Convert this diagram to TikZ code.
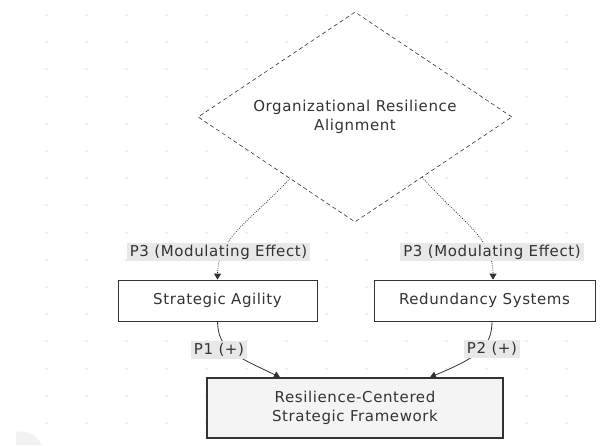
\documentclass[tikz,border=0pt]{standalone}
\usepackage{fontspec}
\setmainfont{DejaVu Sans}[LetterSpace=4]
\usetikzlibrary{shapes.geometric,arrows.meta,calc}
\definecolor{inkgray}{HTML}{333333}
\definecolor{lblgray}{HTML}{E8E8E8}
\definecolor{gridgray}{HTML}{EEEEEE}
\definecolor{framefill}{HTML}{F4F4F4}

\begin{document}
\begin{tikzpicture}[x=1pt, y=-1pt,
    font=\fontsize{15}{18.5}\selectfont,
    box/.style={draw=inkgray, line width=0.7pt, fill=white, rectangle, minimum height=41pt, inner sep=0pt, text=inkgray, align=center},
    decision/.style={draw=inkgray, line width=0.6pt, dash pattern=on 4pt off 3pt, fill=white, diamond, aspect=1.5, minimum width=314pt, minimum height=210pt, inner sep=0pt, text=inkgray, align=center},
    edgelbl/.style={fill=lblgray, text=inkgray, inner xsep=3pt, minimum height=18pt, inner ysep=0pt},
    dotarrow/.style={-{Triangle[length=6pt,width=7pt]}, line width=0.8pt, dash pattern=on 0.8pt off 1.4pt, inkgray},
    arrow/.style={-{Triangle[length=6pt,width=7pt]}, line width=0.8pt, inkgray}
]
    \useasboundingbox (0,0) rectangle (601,445);

    % Background dots
    \foreach \gx in {46,86,...,566}
        \foreach \gy in {0,...,15}
            \fill[gridgray] (\gx-1.5,15+27.2*\gy-1) rectangle (\gx+1.5,15+27.2*\gy+1);
    \fill[gray!10] (16,445) -- (16,432) .. controls (28,429) and (38,437) .. (42,445) -- cycle;

    % Alignment (moderator)
    \node[decision] (align) at (355,117) {Organizational Resilience\\Alignment};

    % Strategic Agility
    \node[box, minimum width=199pt] (agility) at (217.5,300.5) {Strategic Agility};

    % Redundancy Systems
    \node[box, minimum width=221pt] (redund) at (484.5,300.5) {Redundancy Systems};

    % Framework
    \node[box, fill=framefill, line width=1.5pt, minimum width=296pt, minimum height=60pt] (frame) at (355,408) {Resilience-Centered\\Strategic Framework};

    % Arrows
    \coordinate (alignL) at ($(align.west)!0.586!(align.south)$);
    \coordinate (alignR) at ($(align.east)!0.573!(align.south)$);
    \draw[dotarrow] (alignL) .. controls (250,221) and (218,238) .. (agility.north);
    \draw[dotarrow] (alignR) .. controls (462,222) and (493,238) .. ([xshift=8.5pt]redund.north);
    \draw[arrow] (agility.south) .. controls (218,350) and (236,356) .. ([xshift=-75pt]frame.north);
    \draw[arrow] ([xshift=7.5pt]redund.south) .. controls (492,348) and (476,358) .. ([xshift=75pt]frame.north);

    % Labels
    \node[edgelbl] (modL) at (218.5,252) {P3 (Modulating Effect)};
    \node[edgelbl] (modR) at (492,252) {P3 (Modulating Effect)};
    \node[edgelbl] (pone) at (219,350) {P1 (+)};
    \node[edgelbl] (ptwo) at (492,349) {P2 (+)};

\end{tikzpicture}
\end{document}
